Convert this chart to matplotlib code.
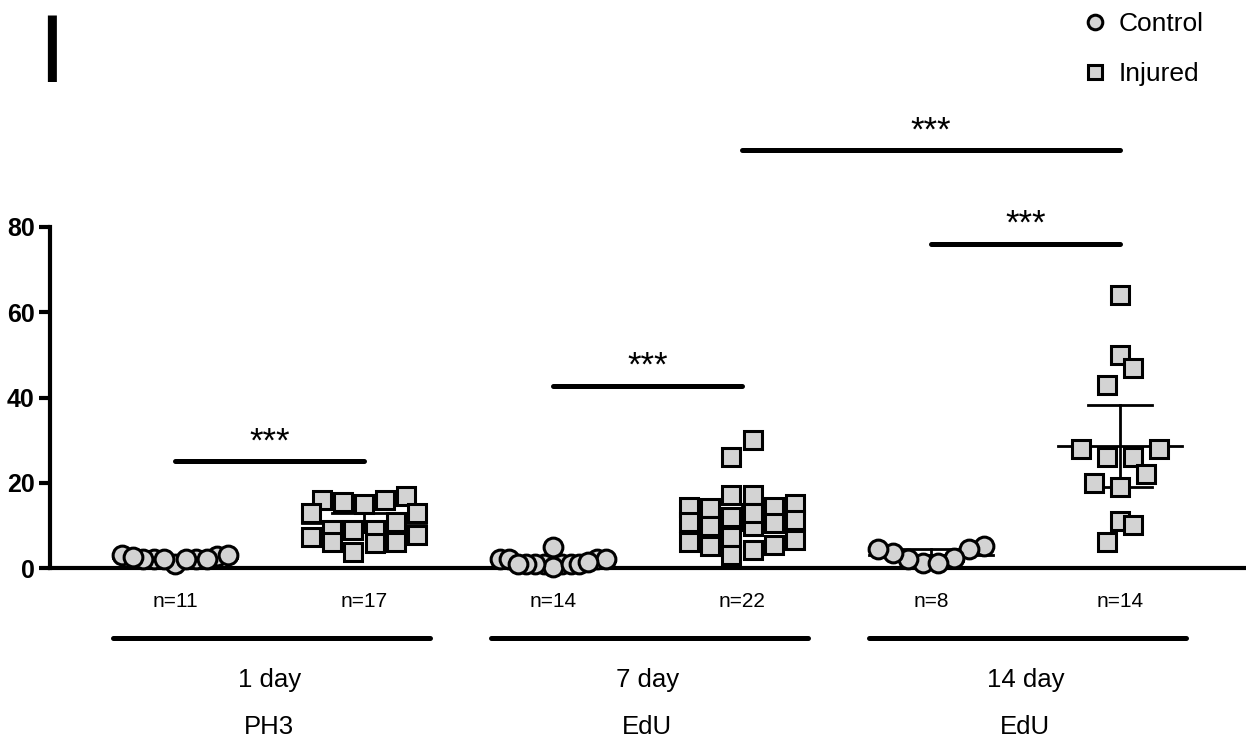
import numpy as np
import matplotlib.pyplot as plt
from matplotlib.lines import Line2D

plt.rcParams['font.family'] = ['Liberation Sans', 'DejaVu Sans']

# cells per section, one list per group
ctrl_1d = [3.0, 2.1, 1.0, 2.1, 2.1, 2.8, 2.5, 2.0, 3.0, 2.0, 2.2]
inj_1d = [17.0, 16.0, 16.0, 15.5, 15.0, 13.0, 13.0, 10.8, 9.0, 9.0, 9.0,
          7.7, 7.3, 6.2, 6.0, 5.8, 3.8]
ctrl_7d = [2.1, 1.0, 1.0, 2.1, 0.2, 1.0, 5.0, 1.0, 1.0, 2.1, 1.0, 1.5, 2.0, 1.0]
inj_7d = [30.0, 26.0, 17.1, 17.1, 14.3, 15.0, 14.0, 14.3, 10.8, 11.2, 9.9,
          9.9, 12.0, 7.3, 6.1, 5.2, 3.1, 4.2, 5.4, 6.6, 13.0, 10.5]
ctrl_14d = [5.2, 4.5, 2.3, 1.2, 1.2, 2.1, 3.5, 4.5]
inj_14d = [64.0, 50.0, 47.0, 43.0, 28.0, 28.0, 26.0, 26.0, 22.0, 20.0, 19.0,
           11.0, 10.0, 6.0]

groups = [ctrl_1d, inj_1d, ctrl_7d, inj_7d, ctrl_14d, inj_14d]
conditions = ['Control', 'Injured', 'Control', 'Injured', 'Control', 'Injured']
days = ['1 day', '7 day', '14 day']
assays = ['PH3', 'EdU', 'EdU']

# (group a, group b, bar height, label)
comparisons = [(0, 1, 25.0, '***'), (2, 3, 42.7, '***'),
               (4, 5, 76.0, '***'), (3, 5, 98.0, '***')]

# two-sided 95% t quantiles by degrees of freedom
T_CRIT = {7: 2.365, 10: 2.228, 13: 2.160, 16: 2.120, 21: 2.080}

MARKERS = {'Control': 'o', 'Injured': 's'}
FILL = '#d3d3d3'


def swarm_offsets(values, row_h=4.0, step=0.1376, max_w=0.56):
    # rows of similar values, spread centre-out, smallest in the middle
    v = np.asarray(values, float)
    order = np.argsort(v, kind='stable')
    rows, cur = [], [order[0]]
    for i in order[1:]:
        if v[i] - v[cur[0]] <= row_h:
            cur.append(i)
        else:
            rows.append(cur)
            cur = [i]
    rows.append(cur)
    widest = max(len(r) for r in rows)
    st = min(step, max_w / (widest - 1)) if widest > 1 else step
    offs = np.zeros(len(v))
    for r in rows:
        k = len(r)
        for rank, i in enumerate(r):
            if k % 2:
                pos = ((rank + 1) // 2) * (-1 if rank % 2 else 1)
            else:
                pos = (rank // 2 + 0.5) * (-1 if rank % 2 == 0 else 1)
            offs[i] = pos * st
    return offs


fig = plt.figure(figsize=(12.46, 7.45), dpi=100)
ax = fig.add_axes([50 / 1246, 1 - 568 / 745, 1 - 50 / 1246, 341 / 745])
ax.set_xlim(-0.661, 5.667)
ax.set_ylim(0, 80)

for i, (vals, cond) in enumerate(zip(groups, conditions)):
    vals = np.asarray(vals)
    offs = swarm_offsets(vals)
    ax.plot(i + offs, vals, ls='none', marker=MARKERS[cond], ms=13.5,
            mfc=FILL, mec='black', mew=2.2, clip_on=False, zorder=3)
    n = len(vals)
    mean = vals.mean()
    ci = T_CRIT[n - 1] * vals.std(ddof=1) / np.sqrt(n)
    ax.plot([i - 0.33, i + 0.33], [mean, mean], color='black', lw=2, zorder=2)
    ax.plot([i, i], [mean - ci, mean + ci], color='black', lw=2, zorder=2)
    for y in (mean - ci, mean + ci):
        ax.plot([i - 0.17, i + 0.17], [y, y], color='black', lw=2, zorder=2)
    ax.text(i, -0.0997, f'n={n}', transform=ax.get_xaxis_transform(),
            ha='center', va='center', fontsize=15)

# time point / assay labels under each pair
for k, (day, assay) in enumerate(zip(days, assays)):
    c = 2 * k + 0.5
    ax.plot([c - 0.83, c + 0.85], [-0.205, -0.205], color='black', lw=3.6,
            solid_capstyle='round', transform=ax.get_xaxis_transform(),
            clip_on=False)
    ax.text(c, -0.328, day, transform=ax.get_xaxis_transform(),
            ha='center', va='center', fontsize=18.5)
    ax.text(c, -0.466, assay, transform=ax.get_xaxis_transform(),
            ha='center', va='center', fontsize=18.5)

# significance bars
for a, b, h, label in comparisons:
    ax.plot([a, b], [h, h], color='black', lw=3.6, solid_capstyle='round',
            clip_on=False)
    ax.text((a + b) / 2, h + 4.6, label, ha='center', va='center',
            fontsize=25)

for side in ('top', 'right'):
    ax.spines[side].set_visible(False)
ax.spines['left'].set_linewidth(3)
ax.spines['bottom'].set_linewidth(3)
ax.spines['left'].set_bounds(0, 80)
ax.set_xticks([])
ax.set_yticks([0, 20, 40, 60, 80])
ax.tick_params(axis='y', length=8, width=3, pad=3, labelsize=18)
for t in ax.get_yticklabels():
    t.set_fontweight('bold')

handles = [Line2D([], [], ls='none', marker=MARKERS[c], ms=10.5, mfc=FILL,
                  mec='black', mew=2.2) for c in ('Control', 'Injured')]
fig.legend(handles, ['Control', 'Injured'], loc='upper left',
           bbox_to_anchor=(1082 / 1246, 1 - 12 / 745), frameon=False,
           fontsize=19, handlelength=1.0, handletextpad=0.4,
           labelspacing=1.0, borderpad=0, borderaxespad=0)

fig.text(38 / 1246, 1 - 82 / 745, 'I', fontsize=69, va='baseline')

fig.savefig('out.png', dpi=100)
